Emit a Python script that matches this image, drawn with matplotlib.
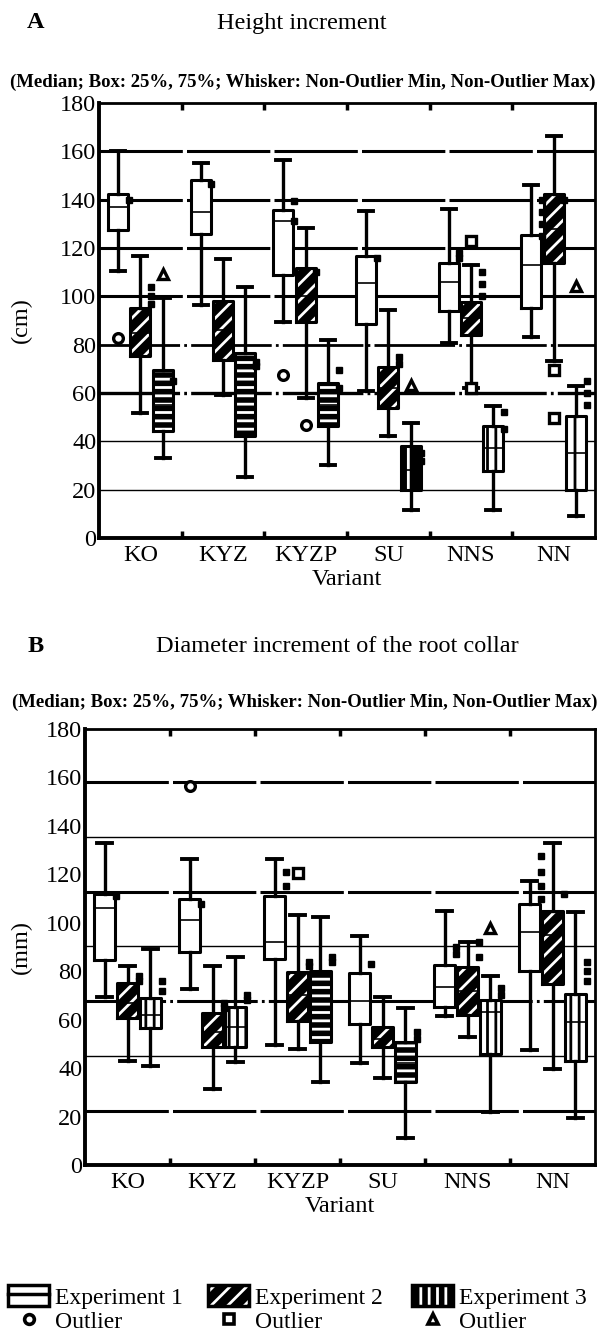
import matplotlib
matplotlib.use('Agg')
import matplotlib.pyplot as plt
from matplotlib.patches import Patch
from matplotlib.lines import Line2D
from matplotlib.legend_handler import HandlerTuple

plt.rcParams['font.family'] = 'Liberation Serif'
plt.rcParams['font.size'] = 17.5
plt.rcParams['hatch.linewidth'] = 2.0
plt.rcParams['lines.scale_dashes'] = False

variants = ['KO', 'KYZ', 'KYZP', 'SU', 'NNS', 'NN']
experiments = ['Experiment 1', 'Experiment 2', 'Experiment 3']

# Panel A: height increment (cm) -- whisker low, Q1, median, Q3, whisker high
a_exp1 = [[110.3, 127.6, 136.8, 142.5, 160.0],
          [96.3, 125.8, 134.9, 148.3, 155.2],
          [89.4, 109.0, 131.0, 135.9, 156.3],
          [60.7, 88.6, 105.5, 116.8, 135.2],
          [80.7, 93.8, 105.9, 113.8, 136.3],
          [83.0, 95.2, 113.1, 125.5, 146.2]]
a_exp2 = [[51.7, 75.2, 85.0, 95.2, 116.8],
          [59.3, 73.8, 86.0, 98.0, 115.6],
          [57.9, 89.4, 100.0, 111.7, 128.3],
          [42.1, 53.8, 62.0, 70.6, 94.5],
          [62.0, 84.1, 91.0, 97.7, 113.0],
          [73.1, 113.8, 128.0, 142.3, 166.2]]
a_exp3 = [[33.1, 44.1, 55.0, 69.7, 99.3],
          [25.1, 42.1, 60.0, 76.6, 103.7],
          [30.3, 46.2, 55.0, 64.1, 82.1],
          [11.7, 20.0, 28.0, 37.9, 47.6],
          [11.7, 27.6, 37.2, 46.2, 54.5],
          [9.0, 20.0, 35.0, 50.3, 62.8]]
# outliers drawn with the legend symbols: (variant, box, value, symbol)
a_outliers = [(0, 0, 82.8, 0), (0, 2, 109.2, 2), (2, 0, 67.6, 0), (2, 1, 46.9, 0),
              (3, 2, 63.4, 2), (4, 1, 123.0, 1), (4, 1, 62.0, 1), (5, 1, 69.7, 1),
              (5, 1, 49.7, 1), (5, 2, 104.1, 2)]
# clustered outliers that print as black blobs: (variant, box, value)
a_blobs = [(0, 0, 140), (0, 1, 104), (0, 1, 100), (0, 1, 97), (0, 2, 64.8),
           (1, 0, 146.5), (1, 2, 73), (1, 2, 71), (2, 0, 139.6), (2, 0, 131),
           (2, 1, 110), (2, 2, 62), (2, 2, 69.7), (3, 0, 116), (3, 1, 75),
           (3, 1, 72), (3, 2, 35), (3, 2, 32), (4, 0, 118), (4, 0, 116),
           (4, 1, 110), (4, 1, 105), (4, 1, 100), (4, 2, 45), (4, 2, 52),
           (5, 0, 140), (5, 0, 135), (5, 0, 130), (5, 0, 125), (5, 1, 140),
           (5, 2, 60), (5, 2, 55), (5, 2, 65)]

# Panel B: diameter increment of the root collar (mm)
b_exp1 = [[69.2, 84.8, 106.0, 111.9, 132.9],
          [72.7, 88.1, 101.3, 109.8, 126.3],
          [49.5, 85.0, 92.2, 111.2, 126.3],
          [42.1, 58.2, 67.8, 79.3, 94.7],
          [61.4, 65.1, 73.3, 82.6, 105.0],
          [47.6, 80.2, 96.1, 107.7, 117.4]]
b_exp2 = [[43.1, 60.5, 67.0, 75.1, 82.3],
          [31.4, 48.6, 55.0, 62.7, 82.0],
          [47.9, 59.6, 70.0, 79.5, 103.2],
          [35.8, 48.6, 52.0, 56.8, 69.2],
          [52.7, 61.9, 72.0, 81.6, 92.2],
          [39.6, 74.7, 95.0, 105.0, 132.9]]
b_exp3 = [[40.7, 56.4, 62.0, 68.8, 89.2],
          [42.4, 48.6, 56.8, 65.1, 85.7],
          [34.1, 50.6, 67.8, 80.2, 102.2],
          [11.0, 34.1, 42.0, 50.6, 64.7],
          [21.7, 45.8, 63.0, 68.3, 77.9],
          [19.3, 43.1, 58.9, 70.6, 104.6]]
b_outliers = [(1, 0, 156.3, 0), (2, 1, 120.5, 1), (4, 2, 97.7, 2)]
b_blobs = [(0, 0, 111), (0, 1, 78), (0, 1, 76), (0, 2, 76), (0, 2, 72),
           (1, 0, 107.7), (1, 1, 67), (1, 1, 65), (1, 2, 70), (1, 2, 68),
           (2, 0, 121), (2, 0, 115), (2, 1, 84), (2, 1, 82), (2, 2, 86),
           (2, 2, 84), (3, 0, 83), (3, 2, 55), (3, 2, 52), (4, 0, 90),
           (4, 0, 87), (4, 1, 92), (4, 1, 86), (4, 2, 73), (4, 2, 70),
           (5, 0, 127.7), (5, 0, 121), (5, 0, 115), (5, 0, 110), (5, 1, 112),
           (5, 2, 84), (5, 2, 80), (5, 2, 76)]

# scanned grid lines (value, width, style)
a_grid = [(160, 2.2, 'dash'), (140, 2.2, 'dash'), (120, 2.2, 'dash'), (100, 2.2, 'dash'),
          (80, 2.0, 'dashdot'), (60, 2.4, 'dashdot'), (40, 1.0, 'solid'), (20, 1.0, 'solid')]
b_grid = [(158, 2.2, 'dash'), (135.5, 1.0, 'solid'), (112.6, 2.2, 'dash'), (90.6, 1.0, 'solid'),
          (67.8, 2.2, 'dashdot'), (45.1, 1.0, 'solid'), (22.4, 2.2, 'dash')]

# fill styles of the Experiment 3 boxes as they print in the scan
a_exp3_fill = [('black', '--'), ('black', '--'), ('black', '--'),
               ('black', '|'), ('white', '||'), ('white', '|')]
b_exp3_fill = [('white', '||'), ('white', '||'), ('black', '--'),
               ('black', '--'), ('white', '||'), ('white', '||')]

markers = ['o', 's', '^']
dash_styles = {'dash': (0, (60, 3)), 'dashdot': (0, (58, 3, 2, 3)), 'solid': '-'}

fig = plt.figure(figsize=(5.98, 13.37), dpi=100)
H = 1337.0
W = 598.0


def stats_of(rows):
    return [dict(whislo=r[0], q1=r[1], med=r[2], q3=r[3], whishi=r[4]) for r in rows]


def draw_panel(ax, exps, exp3_fill, outliers, blobs, grid, ylabel):
    for val, lw, st in grid:
        ax.axhline(val, color='black', lw=lw, linestyle=dash_styles[st], zorder=1)

    for j, rows in enumerate(exps):
        pos = [i + 0.5 + (j - 1) * 0.27 for i in range(len(rows))]
        st = stats_of(rows)
        filled = ax.bxp(st, positions=pos, widths=0.24, patch_artist=True,
                        showfliers=False, showcaps=False, manage_ticks=False,
                        whiskerprops=dict(lw=0), medianprops=dict(lw=0),
                        zorder=2)
        for k, p in enumerate(filled['boxes']):
            if j == 0:
                p.set_facecolor('white')
                p.set_edgecolor('black')
            elif j == 1:
                p.set_facecolor('black')
                p.set_edgecolor('white')
                p.set_hatch('//')
            else:
                fc, hatch = exp3_fill[k]
                p.set_facecolor(fc)
                p.set_edgecolor('white' if fc == 'black' else 'black')
                p.set_hatch(hatch)
            p.set_linewidth(0)
        ax.bxp(st, positions=pos, widths=0.24, capwidths=0.17, showfliers=False,
               manage_ticks=False,
               boxprops=dict(color='black', lw=2.2),
               whiskerprops=dict(color='black', lw=2.4),
               capprops=dict(color='black', lw=2.8),
               medianprops=dict(color='black', lw=1.2),
               zorder=3)

    for i, j, v, m in outliers:
        ax.plot(i + 0.5 + (j - 1) * 0.27, v, marker=markers[m], ms=7, mfc='white',
                mec='black', mew=2.4, ls='none', zorder=4)
    for i, j, v in blobs:
        ax.plot(i + 0.5 + (j - 1) * 0.27 + 0.13, v, marker='s', ms=4.5, mfc='black',
                mec='black', ls='none', zorder=4)

    ax.set_xlim(0, 6)
    ax.set_ylim(0, 180)
    ax.set_yticks(range(0, 181, 20))
    ax.set_xticks([i + 0.5 for i in range(len(variants))])
    ax.set_xticklabels(variants)
    ax.set_xticks(range(1, 6), minor=True)
    ax.tick_params(axis='x', which='major', length=0, pad=5)
    ax.tick_params(axis='x', which='minor', direction='in', length=5, width=2.5,
                   top=True, bottom=True)
    ax.tick_params(axis='y', length=0, pad=2)
    for side in ['left', 'bottom']:
        ax.spines[side].set_linewidth(2.8)
    for side in ['top', 'right']:
        ax.spines[side].set_linewidth(2.0)
    ax.set_xlabel('Variant', labelpad=2)
    ax.set_ylabel(ylabel)


# panel A
ax_a = fig.add_axes([99 / W, 1 - 538 / H, (595 - 99) / W, (538 - 103) / H])
draw_panel(ax_a, [a_exp1, a_exp2, a_exp3], a_exp3_fill, a_outliers, a_blobs, a_grid, '(cm)')
ax_a.yaxis.set_label_coords(-0.135, 0.5)

# panel B
ax_b = fig.add_axes([85 / W, 1 - 1165 / H, (595 - 85) / W, (1165 - 729) / H])
draw_panel(ax_b, [b_exp1, b_exp2, b_exp3], b_exp3_fill, b_outliers, b_blobs, b_grid, '(mm)')
ax_b.yaxis.set_label_coords(-0.105, 0.5)

# titles
fig.text(36 / W, 1 - 23 / H, 'A', fontweight='bold', ha='center', va='center')
fig.text(302 / W, 1 - 23 / H, 'Height increment', ha='center', va='center')
fig.text(36 / W, 1 - 647 / H, 'B', fontweight='bold', ha='center', va='center')
fig.text(337 / W, 1 - 647 / H, 'Diameter increment of the root collar', ha='center', va='center')

subtitle = '(Median; Box: 25%, 75%; Whisker: Non-Outlier Min, Non-Outlier Max)'
subs = [fig.text(10 / W, 1 - 82 / H, subtitle, fontweight='bold', ha='left', va='center', fontsize=12),
        fig.text(12 / W, 1 - 702 / H, subtitle, fontweight='bold', ha='left', va='center', fontsize=12)]
fig.canvas.draw()
for t in subs:
    w = t.get_window_extent().width
    t.set_fontsize(12 * 584 / w)

# legend, one column per experiment
exp_handles = [
    (Patch(facecolor='white', edgecolor='black', lw=2.5),
     Line2D([], [], color='black', lw=2.5)),
    (Patch(facecolor='black', edgecolor='white', hatch='//', lw=0),
     Patch(facecolor='none', edgecolor='black', lw=2.5)),
    (Patch(facecolor='black', edgecolor='white', hatch='||', lw=0),
     Patch(facecolor='none', edgecolor='black', lw=2.5)),
]
legend_x = [8, 208, 412]
for j in range(3):
    out_handle = Line2D([], [], marker=markers[j], ms=7, mfc='white', mec='black',
                        mew=2.6, ls='none')
    leg = fig.legend([exp_handles[j], out_handle], [experiments[j], 'Outlier'],
                     loc='lower left', bbox_to_anchor=(legend_x[j] / W, 0.003),
                     frameon=False, handlelength=1.75, handleheight=0.95,
                     handletextpad=0.25, labelspacing=0.05, borderpad=0.0,
                     borderaxespad=0.0, fontsize=17,
                     handler_map={tuple: HandlerTuple(ndivide=1)})

fig.savefig('out.png', dpi=100)
